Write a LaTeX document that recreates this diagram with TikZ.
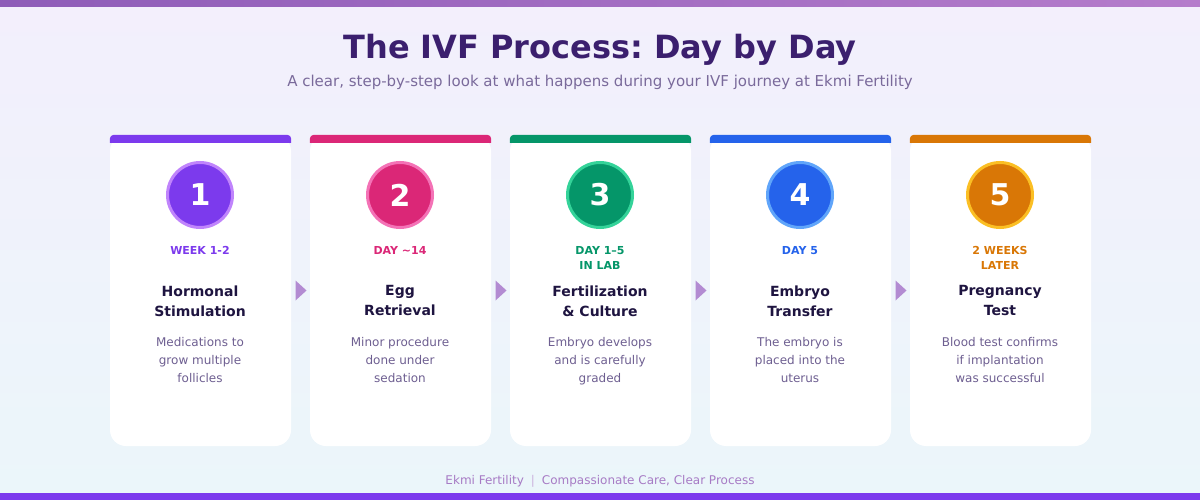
\documentclass[tikz,border=0pt]{standalone}
\usepackage{fontspec}
\setmainfont{DejaVu Sans}
\frenchspacing
\usetikzlibrary{calc}
\definecolor{bgtop}{HTML}{F3EFFC}
\definecolor{bgbot}{HTML}{EBF6FA}
\definecolor{barleft}{HTML}{8E5CB8}
\definecolor{barright}{HTML}{B57CCB}
\definecolor{barbottom}{HTML}{7C3AED}
\definecolor{titleink}{HTML}{3B1F6E}
\definecolor{subink}{HTML}{7A6A9B}
\definecolor{headink}{HTML}{1E1440}
\definecolor{descink}{HTML}{6E5F91}
\definecolor{footink}{HTML}{A77BC5}
\definecolor{arrowink}{HTML}{B38BD2}
\definecolor{stepA}{HTML}{7C3AED}
\definecolor{ringA}{HTML}{C084FC}
\definecolor{stepB}{HTML}{DB2777}
\definecolor{ringB}{HTML}{F472B6}
\definecolor{stepC}{HTML}{059669}
\definecolor{ringC}{HTML}{34D399}
\definecolor{stepD}{HTML}{2563EB}
\definecolor{ringD}{HTML}{60A5FA}
\definecolor{stepE}{HTML}{D97706}
\definecolor{ringE}{HTML}{FBBF24}
\begin{document}
\begin{tikzpicture}[x=1pt,y=-1pt,
  card/.style={fill=white, rounded corners=16, minimum width=181, minimum height=311, inner sep=0},
  numdisc/.style={circle, minimum size=65, inner sep=0, line width=3, text=white, font=\fontsize{30}{36}\selectfont\bfseries},
  daytext/.style={anchor=north, align=center, inner sep=0, font=\fontsize{11}{15}\selectfont\bfseries},
  headtext/.style={anchor=north, align=center, inner sep=0, text=headink, font=\fontsize{14}{20}\selectfont\bfseries, execute at begin node=\vphantom{Hl}},
  desctext/.style={anchor=north, align=center, inner sep=0, text=descink, font=\fontsize{12}{18}\selectfont, execute at begin node=\vphantom{Hl}}]
\useasboundingbox (0,0) rectangle (1200,500);
\shade[top color=bgtop, bottom color=bgbot] (0,0) rectangle (1200,500);
\shade[left color=barleft, right color=barright] (0,0) rectangle (1200,7);
\fill[barbottom] (0,493) rectangle (1200,500);

\node[text=titleink, font=\fontsize{32}{38}\selectfont\bfseries] (title) at (600,49.5) {The IVF Process: Day by Day};
\node[text=subink, font=\fontsize{15}{18}\selectfont] (subtitle) at (600,82) {A clear, step-by-step look at what happens during your IVF journey at Ekmi Fertility};

% cards
\node[card] (c1) at (200.5,290.5) {};
\node[card] (c2) at (400.5,290.5) {};
\node[card] (c3) at (600.5,290.5) {};
\node[card] (c4) at (800.5,290.5) {};
\node[card] (c5) at (1000.5,290.5) {};
\fill[stepA] ($(c1.north west)+(0,8)$) [rounded corners=4] -- (c1.north west) -- (c1.north east) [sharp corners] -- ($(c1.north east)+(0,8)$) -- cycle;
\fill[stepB] ($(c2.north west)+(0,8)$) [rounded corners=4] -- (c2.north west) -- (c2.north east) [sharp corners] -- ($(c2.north east)+(0,8)$) -- cycle;
\fill[stepC] ($(c3.north west)+(0,8)$) [rounded corners=4] -- (c3.north west) -- (c3.north east) [sharp corners] -- ($(c3.north east)+(0,8)$) -- cycle;
\fill[stepD] ($(c4.north west)+(0,8)$) [rounded corners=4] -- (c4.north west) -- (c4.north east) [sharp corners] -- ($(c4.north east)+(0,8)$) -- cycle;
\fill[stepE] ($(c5.north west)+(0,8)$) [rounded corners=4] -- (c5.north west) -- (c5.north east) [sharp corners] -- ($(c5.north east)+(0,8)$) -- cycle;

% step 1
\node[numdisc, fill=stepA, draw=ringA] (n1) at (200,195) {1};
\node[daytext, text=stepA] (d1) at (200,246) {WEEK 1-2};
\node[headtext] (h1) at (200,285.5) {Hormonal\\Stimulation};
\node[desctext] (t1) at (200,337) {Medications to\\grow multiple\\follicles};

% step 2
\node[numdisc, fill=stepB, draw=ringB] (n2) at (400,195) {2};
\node[daytext, text=stepB] (d2) at (400,246) {DAY \textasciitilde14};
\node[headtext] (h2) at (400,285.5) {Egg\\Retrieval};
\node[desctext] (t2) at (400,337) {Minor procedure\\done under\\sedation};

% step 3
\node[numdisc, fill=stepC, draw=ringC] (n3) at (600,195) {3};
\node[daytext, text=stepC] (d3) at (600,246) {DAY 1–5\\IN LAB};
\node[headtext] (h3) at (600,285.5) {Fertilization\\\& Culture};
\node[desctext] (t3) at (600,337) {Embryo develops\\and is carefully\\graded};

% step 4
\node[numdisc, fill=stepD, draw=ringD] (n4) at (800,195) {4};
\node[daytext, text=stepD] (d4) at (800,246) {DAY 5};
\node[headtext] (h4) at (800,285.5) {Embryo\\Transfer};
\node[desctext] (t4) at (800,337) {The embryo is\\placed into the\\uterus};

% step 5
\node[numdisc, fill=stepE, draw=ringE] (n5) at (1000,195) {5};
\node[daytext, text=stepE] (d5) at (1000,246) {2 WEEKS\\LATER};
\node[headtext] (h5) at (1000,285.5) {Pregnancy\\Test};
\node[desctext] (t5) at (1000,337) {Blood test confirms\\if implantation\\was successful};

% arrows between cards
\coordinate (m12) at ($(c1.east)!0.5!(c2.west)$);
\coordinate (m23) at ($(c2.east)!0.5!(c3.west)$);
\coordinate (m34) at ($(c3.east)!0.5!(c4.west)$);
\coordinate (m45) at ($(c4.east)!0.5!(c5.west)$);
\fill[arrowink] ($(m12)+(-5,-10)$) -- ($(m12)+(6,0)$) -- ($(m12)+(-5,10)$) -- cycle;
\fill[arrowink] ($(m23)+(-5,-10)$) -- ($(m23)+(6,0)$) -- ($(m23)+(-5,10)$) -- cycle;
\fill[arrowink] ($(m34)+(-5,-10)$) -- ($(m34)+(6,0)$) -- ($(m34)+(-5,10)$) -- cycle;
\fill[arrowink] ($(m45)+(-5,-10)$) -- ($(m45)+(6,0)$) -- ($(m45)+(-5,10)$) -- cycle;

\node[text=footink, font=\fontsize{12}{14}\selectfont] (footer) at (600,481) {Ekmi Fertility\hspace{7pt}{\color{footink!60}|}\hspace{7pt}Compassionate Care, Clear Process};
\end{tikzpicture}
\end{document}
